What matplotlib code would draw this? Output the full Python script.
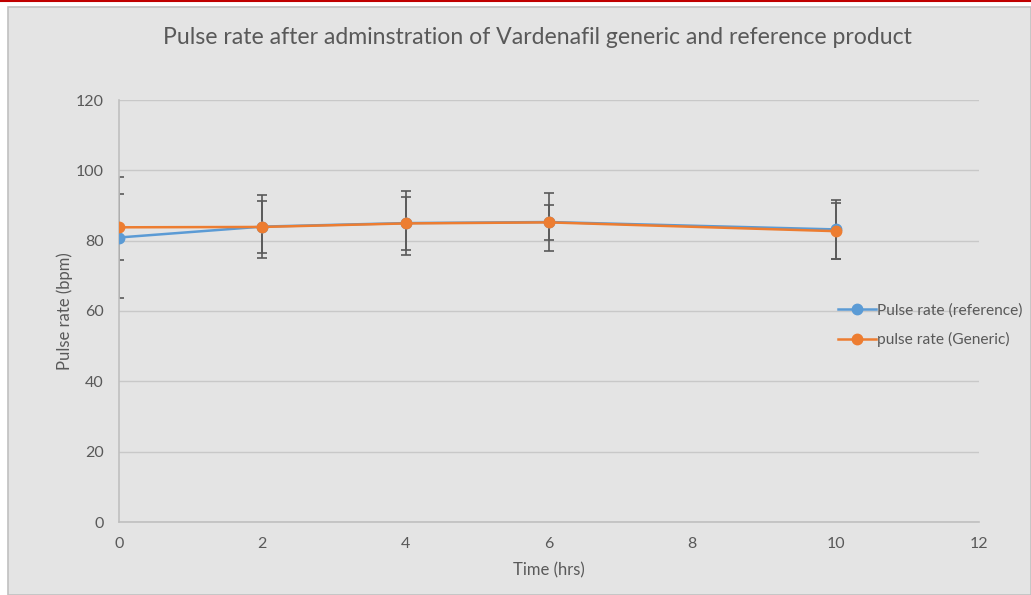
import matplotlib
matplotlib.use("Agg")
import matplotlib.pyplot as plt
from matplotlib.patches import Rectangle
from matplotlib.lines import Line2D

time_hrs = [0, 2, 4, 6, 10]
ref_mean = [80.9, 84.0, 85.0, 85.3, 83.2]
ref_err = [17.3, 8.9, 9.0, 8.2, 8.4]
gen_mean = [83.8, 83.9, 84.9, 85.2, 82.7]
gen_err = [9.4, 7.3, 7.6, 4.9, 7.9]

ref_label = "Pulse rate (reference)"
gen_label = "pulse rate (Generic)"
title = "Pulse rate after adminstration of Vardenafil generic and reference product"

plt.rcParams['font.family'] = ['Lato', 'DejaVu Sans']
txt = '#595959'
W, H = 1031, 595
fig = plt.figure(figsize=(W / 100, H / 100), dpi=100)
fig.patch.set_facecolor('white')
fig.patches.append(Rectangle((8 / W, 0), 1 - 8 / W, 1 - 7 / H, transform=fig.transFigure,
                             facecolor='#e4e4e4', edgecolor='#c0c0c0', linewidth=1.2, zorder=-10))
fig.add_artist(Line2D([0, 1], [1 - 1 / H, 1 - 1 / H], transform=fig.transFigure, color='#c00000', lw=1.5))

ax = fig.add_axes([119 / W, 1 - 522 / H, (979 - 119) / W, (522 - 100) / H])
ax.set_facecolor('#e4e4e4')
ax.patch.set_alpha(0)

blue = '#5b9bd5'
orange = '#ed7d31'
ax.errorbar(time_hrs, ref_mean, yerr=ref_err, fmt='none', ecolor='#595959', elinewidth=1.2,
            capsize=3.8, capthick=1.2, zorder=2)
ax.errorbar(time_hrs, gen_mean, yerr=gen_err, fmt='none', ecolor='#595959', elinewidth=1.2,
            capsize=3.8, capthick=1.2, zorder=2)
l1, = ax.plot(time_hrs, ref_mean, '-o', color=blue, lw=1.8, markersize=7.5, label=ref_label, zorder=3)
l2, = ax.plot(time_hrs, gen_mean, '-o', color=orange, lw=1.8, markersize=7.5, label=gen_label, zorder=4)

ax.set_xlim(0, 12)
ax.set_ylim(0, 120)
ax.set_xticks(range(0, 13, 2))
ax.set_yticks(range(0, 121, 20))
ax.grid(axis='y', color='#c8c8c8', lw=1)
ax.set_axisbelow(True)
for s in ['top', 'right']:
    ax.spines[s].set_visible(False)
for s in ['left', 'bottom']:
    ax.spines[s].set_color('#bfbfbf')
    ax.spines[s].set_linewidth(1.2)
ax.tick_params(axis='y', length=0, labelsize=11.5, colors=txt, pad=11)
ax.tick_params(axis='x', length=0, labelsize=11.5, colors=txt, pad=11)
ax.set_xlabel("Time (hrs)", fontsize=12, color=txt, labelpad=8)
ax.set_ylabel("Pulse rate (bpm)", fontsize=12, color=txt, labelpad=2)

fig.text(537 / W, 1 - 38 / H, title, ha='center', va='center', fontsize=16.6, color=txt)

leg = fig.legend(handles=[l1, l2], loc='center left', bbox_to_anchor=(832 / W, 1 - 325 / H),
                 frameon=False, fontsize=11.2, handlelength=2.4, handletextpad=0.1,
                 labelspacing=0.95, labelcolor=txt, borderaxespad=0)

fig.savefig('out.png', dpi=100)
